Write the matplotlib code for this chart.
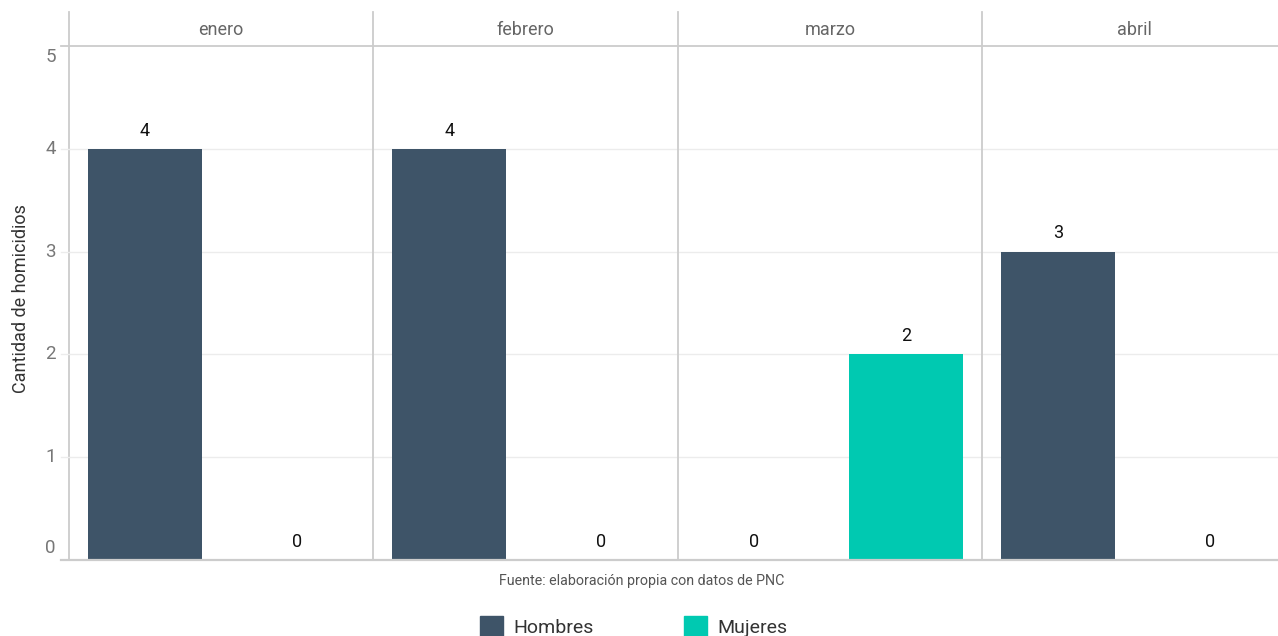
import matplotlib
matplotlib.use("Agg")
import matplotlib.pyplot as plt
from matplotlib.patches import Rectangle
from matplotlib.lines import Line2D

months = ["enero", "febrero", "marzo", "abril"]
series = ["Hombres", "Mujeres"]
hombres = [4, 4, 0, 3]
mujeres = [0, 0, 2, 0]
yticks = [0, 1, 2, 3, 4, 5]
colors = ["#3e5468", "#00c9b1"]
zero_colors = ["#9aa6b0", "#a8dcd6"]

plt.rcParams['font.family'] = ['Roboto', 'DejaVu Sans']

W, H = 1278, 636
fig = plt.figure(figsize=(W / 100, H / 100), dpi=100)

left_px, right_px = 69, 1278
top_px, bottom_px = 46, 560
strip_top = 12
n = len(months)
pw = 304.3

def fx(px):
    return px / W

def fy(py):
    return 1 - py / H

grid_c = "#ececec"
line_c = "#cccccc"
vals = [hombres, mujeres]
for i, m in enumerate(months):
    ax = fig.add_axes([fx(left_px + i * pw), fy(bottom_px), pw / W, (bottom_px - top_px) / H])
    ax.set_xlim(-0.5, 1.5)
    ax.set_ylim(0, 5)
    for s in ax.spines.values():
        s.set_visible(False)
    ax.set_xticks([])
    ax.set_yticks([])
    for t in yticks[1:-1]:
        ax.axhline(t, color=grid_c, lw=1, zorder=0)
    for j in range(2):
        v = vals[j][i]
        if v > 0:
            ax.bar(j, v, width=0.75, color=colors[j], zorder=2)
        else:
            ax.bar(j, 0.012, width=0.75, color=zero_colors[j], zorder=2)
        ax.text(j, v + 0.09, str(v), ha="center", va="bottom", fontsize=13, color="#111111", zorder=3)
    fig.text(fx(left_px + (i + 0.5) * pw), fy(30), m, ha="center", va="center", fontsize=13, color="#666666")

overlay = fig.add_axes([0, 0, 1, 1], facecolor="none")
overlay.set_xlim(0, W)
overlay.set_ylim(H, 0)
overlay.axis("off")
for i in range(n):
    x = left_px + i * pw
    overlay.add_line(Line2D([x, x], [strip_top, bottom_px], color=line_c, lw=1.3))
overlay.add_line(Line2D([left_px - 8, right_px], [top_px, top_px], color=line_c, lw=1.3))
overlay.add_line(Line2D([left_px - 8, right_px], [bottom_px, bottom_px], color=line_c, lw=1.6))
for t in yticks[1:-1]:
    y = bottom_px - t * (bottom_px - top_px) / 5
    overlay.add_line(Line2D([left_px - 8, left_px], [y, y], color=grid_c, lw=1))

for t in yticks:
    y = bottom_px - t * (bottom_px - top_px) / 5
    if t == 0:
        y -= 12
    elif t == 5:
        y += 11
    overlay.text(56, y, str(t), ha="right", va="center", fontsize=13.5, color="#777777")

overlay.text(21, (top_px + bottom_px) / 2 - 4, "Cantidad de homicidios", rotation=90,
             ha="center", va="center", fontsize=13, color="#333333")

overlay.text(642, 581, "Fuente: elaboración propia con datos de PNC", ha="center", va="center",
             fontsize=10.3, color="#555555")

leg_items = [(480, series[0], colors[0]), (684, series[1], colors[1])]
for x0, lab, c in leg_items:
    overlay.add_patch(Rectangle((x0, 616), 23, 21, color=c))
    overlay.text(x0 + 33, 628, lab, ha="left", va="center", fontsize=14, color="#333333")

fig.savefig("out.png", dpi=100)
